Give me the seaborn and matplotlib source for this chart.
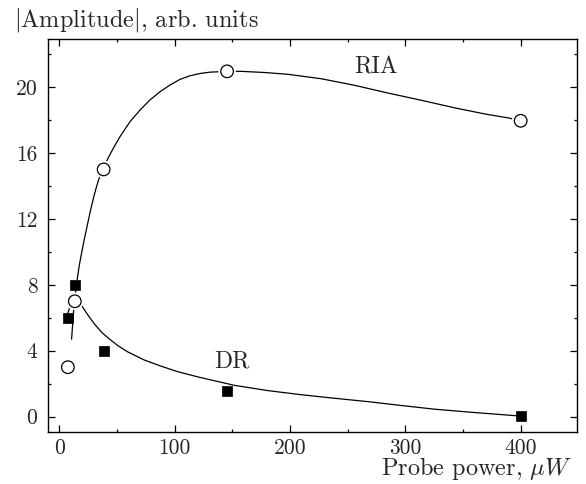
import matplotlib
matplotlib.use("Agg")
import matplotlib.pyplot as plt
import matplotlib.patheffects as pe
from matplotlib.ticker import MultipleLocator
import seaborn as sns
import pandas as pd

# --- data ---
power = [7.5, 13.5, 38.5, 145.5, 400]
ria_amp = [3.0, 7.0, 15.0, 20.95, 17.95]
dr_amp = [6.0, 8.0, 4.0, 1.54, 0.04]

ria_fit_x = [10.7, 12.7, 15.3, 17.3, 19.7, 22.0, 24.6, 26.9, 29.8, 32.7, 35.5, 38.5,
             42.8, 47.0, 52.6, 61.3, 70.0, 78.6, 87.3, 96.0, 104.6, 113.3, 122.0,
             130.7, 139.3, 145.5, 157.7, 178.0, 198.3, 227.2, 256.2, 285.2, 314.2,
             343.1, 370.0, 389.6, 400.0]
ria_fit_y = [4.7, 6.65, 8.2, 9.15, 10.05, 10.85, 11.7, 12.45, 13.3, 14.05, 14.65, 15.12,
             15.75, 16.3, 16.98, 17.89, 18.60, 19.21, 19.71, 20.12, 20.46, 20.68, 20.82,
             20.90, 20.93, 20.95, 20.95, 20.88, 20.77, 20.5, 20.1, 19.63, 19.19,
             18.73, 18.35, 18.12, 17.95]

dr_fit_x = [7.5, 9.8, 12.0, 14.5, 17.0, 20.0, 25.0, 30.1, 37.0, 44.6, 51.0, 59.1, 73.6,
            88.0, 102.6, 121.4, 151.8, 180.9, 209.8, 238.0, 267.8, 296.0, 325.8,
            360.0, 395.3, 400.0]
dr_fit_y = [6.3, 6.77, 7.0, 7.08, 6.95, 6.67, 6.15, 5.66, 5.1, 4.65, 4.3, 3.94, 3.44,
            3.07, 2.73, 2.39, 1.9, 1.58, 1.33, 1.12, 0.91, 0.68, 0.45, 0.25, 0.06, 0.03]

xticks = [0, 100, 200, 300, 400]
yticks = [0, 4, 8, 12, 16, 20]

sns.set_style("ticks")
plt.rcParams["font.family"] = ["cmr10"]
plt.rcParams["mathtext.fontset"] = "cm"
plt.rcParams["axes.formatter.use_mathtext"] = True
plt.rcParams["axes.unicode_minus"] = False

FS_LABEL = 17.5
FS_ANN = 17
FS_TICK = 15.5

fig = plt.figure(figsize=(5.86, 4.84), dpi=100)
ax = fig.add_axes([0.0814, 0.1068, 0.985 - 0.0814, 0.919 - 0.1068])

df_rfit = pd.DataFrame({"x": ria_fit_x, "y": ria_fit_y})
df_dfit = pd.DataFrame({"x": dr_fit_x, "y": dr_fit_y})
sns.lineplot(data=df_rfit, x="x", y="y", ax=ax, color="black", lw=0.9,
             sort=False, estimator=None, zorder=2)
sns.lineplot(data=df_dfit, x="x", y="y", ax=ax, color="black", lw=0.9,
             sort=False, estimator=None, zorder=2)

df_pts = pd.DataFrame({"x": power, "ria": ria_amp, "dr": dr_amp})
sns.scatterplot(data=df_pts, x="x", y="dr", ax=ax, marker="s", s=62,
                color="black", edgecolor="black", linewidth=0.5, zorder=4)
sns.scatterplot(data=df_pts, x="x", y="ria", ax=ax, marker="o", s=82,
                facecolor="white", edgecolor="black", linewidth=0.9, zorder=5)
circ = ax.collections[-1]
circ.set_path_effects([pe.Stroke(linewidth=3.5, foreground="white"), pe.Normal()])

ax.text(275, 21.2, "RIA", fontsize=FS_ANN, ha="center", va="center")
ax.text(150, 3.33, "DR", fontsize=FS_ANN, ha="center", va="center")

ax.set_xlim(-10, 449)
ax.set_ylim(-0.95, 22.9)
ax.set_xticks(xticks)
ax.set_yticks(yticks)
ax.set_xticklabels([str(v) for v in xticks])
ax.set_yticklabels([str(v) for v in yticks])
ax.xaxis.set_minor_locator(MultipleLocator(50))
ax.yaxis.set_minor_locator(MultipleLocator(2))
ax.tick_params(which="both", direction="in", top=True, right=True, width=0.9,
               color="black")
ax.tick_params(which="major", length=5, labelsize=FS_TICK)
ax.tick_params(axis="x", which="major", pad=4.5)
ax.tick_params(axis="y", which="major", pad=7.5)
ax.tick_params(which="minor", length=2.5)
for s in ax.spines.values():
    s.set_linewidth(1.0)
    s.set_color("black")
ax.set_xlabel("")
ax.set_ylabel("")

fig.text(14 / 586, (484 - 26) / 484, r"$|$Amplitude$|$, arb. units", fontsize=FS_LABEL,
         ha="left", va="baseline")
fig.text(572 / 586, (484 - 475.5) / 484, r"Probe power, $\mu W$", fontsize=FS_LABEL,
         ha="right", va="baseline")

fig.savefig("out.png", dpi=100)
